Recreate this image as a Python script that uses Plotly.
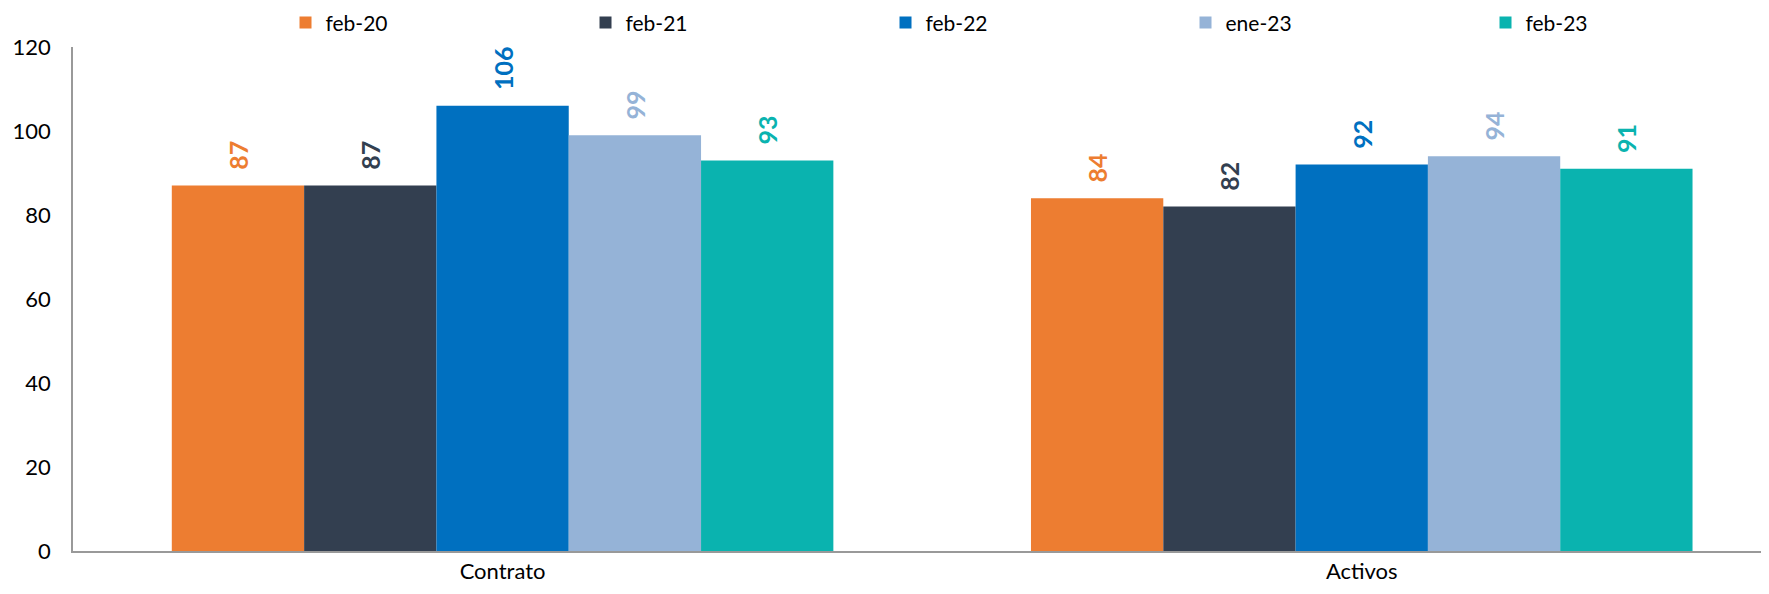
import plotly.graph_objects as go

categories = ["Contrato", "Activos"]
series_names = ["feb-20", "feb-21", "feb-22", "ene-23", "feb-23"]
feb20 = [87, 84]
feb21 = [87, 82]
feb22 = [106, 92]
ene23 = [99, 94]
feb23 = [93, 91]
colors = ["#ED7D31", "#333F50", "#0070C0", "#95B3D7", "#0AB3AF"]

fig = go.Figure()
for name, vals, col in zip(series_names, [feb20, feb21, feb22, ene23, feb23], colors):
    fig.add_trace(go.Bar(
        x=categories, y=vals, name=name,
        marker=dict(color=col, line=dict(width=0)),
        text=vals,
        texttemplate="\u00a0\u00a0<b>%{text}</b>",
        textposition="outside", textangle=-90,
        textfont=dict(family="Lato", size=25, color=col),
        cliponaxis=False,
    ))

# page body has an 8px margin, so the figure is sized a bit smaller
fig.update_layout(
    width=1761, height=586,
    barmode="group", bargap=0.23, bargroupgap=0,
    plot_bgcolor="white", paper_bgcolor="white",
    margin=dict(l=65, r=0, t=39, b=43, autoexpand=False),
    font=dict(family="Lato", size=22, color="black"),
    legend=dict(orientation="h", x=0.1253, xanchor="left", y=1.048, yanchor="middle",
                entrywidth=255, itemwidth=30, font=dict(size=21),
                tracegroupgap=0),
    xaxis=dict(range=[-0.5, 1.474], showline=True, linecolor="#999999", linewidth=2,
               ticks="", showgrid=False),
    yaxis=dict(range=[0, 120], dtick=20, showline=True, linecolor="#999999", linewidth=1.5,
               ticks="", showgrid=False, zeroline=False, ticklabelstandoff=16),
)

fig.write_html("out.html")
